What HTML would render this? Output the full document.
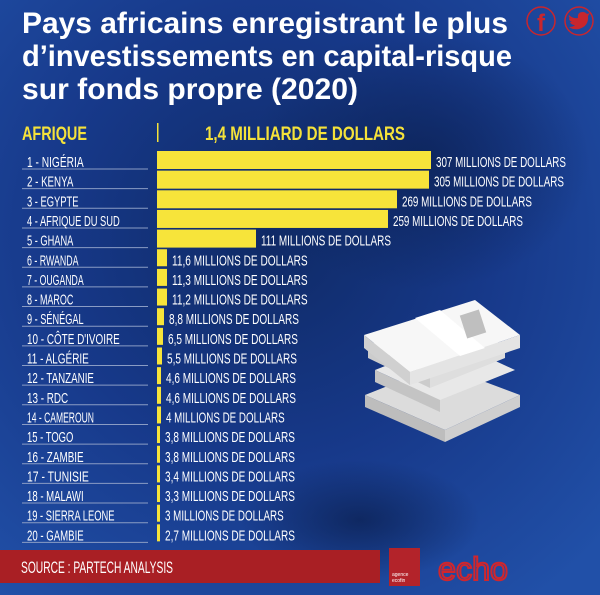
<!DOCTYPE html>
<html><head><meta charset="utf-8"><style>
html,body{margin:0;padding:0;width:600px;height:595px;overflow:hidden;background:#1e48a0}
svg{display:block}
text{font-family:"Liberation Sans",sans-serif}
</style></head><body>
<svg width="600" height="595" viewBox="0 0 600 595" xmlns="http://www.w3.org/2000/svg">
<defs>
<radialGradient id="bg" cx="0.45" cy="0.4" r="0.75">
<stop offset="0" stop-color="#0f2a66"/><stop offset="0.5" stop-color="#17398a"/><stop offset="1" stop-color="#2150a8"/>
</radialGradient>
<radialGradient id="blob" cx="0.5" cy="0.5" r="0.5">
<stop offset="0" stop-color="#0c2255" stop-opacity="0.8"/><stop offset="1" stop-color="#0c2255" stop-opacity="0"/>
</radialGradient>
</defs>
<rect width="600" height="595" fill="url(#bg)"/>
<ellipse cx="420" cy="160" rx="170" ry="130" fill="url(#blob)"/>
<ellipse cx="360" cy="520" rx="120" ry="60" fill="url(#blob)"/>
<g fill="#fff" font-weight="bold" font-size="30">
<text x="22" y="33" textLength="486" lengthAdjust="spacingAndGlyphs">Pays africains enregistrant le plus</text>
<text x="22" y="66" textLength="490" lengthAdjust="spacingAndGlyphs">d’investissements en capital-risque</text>
<text x="22" y="99" textLength="336" lengthAdjust="spacingAndGlyphs">sur fonds propre (2020)</text>
</g>
<circle cx="541" cy="21" r="14" fill="none" stroke="#c8262d" stroke-width="1.5"/>
<text x="541" y="31" font-size="24" font-weight="bold" fill="#c8262d" text-anchor="middle">f</text>
<circle cx="579" cy="21" r="14" fill="none" stroke="#c8262d" stroke-width="1.5"/>
<path d="M569 15 q4 4 9 3 q-1 -6 5 -6 q2 0 4 2 l3 -1 l-2 3 q1 10 -9 13 q-6 1 -10 -2 q4 0 6 -2 q-4 0 -5 -3 l2 0 q-3 -1 -3 -4 l2 1 q-3 -2 -2 -4z" fill="#c8262d"/>
<g fill="#f5e23a" font-weight="bold" font-size="19">
<text x="22" y="140" textLength="65" lengthAdjust="spacingAndGlyphs">AFRIQUE</text>
<text x="205" y="140" textLength="200" lengthAdjust="spacingAndGlyphs">1,4 MILLIARD DE DOLLARS</text>
</g>
<rect x="157" y="123" width="1.5" height="19" fill="#f5e23a"/>
<g id="rows" fill="#fff" font-size="15"></g>
<g>
<polygon points="365,395 440,365 520,395 445,430" fill="#dcdcdc"/>
<polygon points="365,395 445,430 445,442 365,407" fill="#bdbdbd"/>
<polygon points="445,430 520,395 520,407 445,442" fill="#cfcfcf"/>
<polygon points="375,370 450,340 515,370 440,400" fill="#e8e8e8"/>
<polygon points="375,370 440,400 440,412 375,382" fill="#c4c4c4"/>
<polygon points="368,345 440,318 505,345 430,375" fill="#f0f0f0"/>
<polygon points="368,345 430,375 430,388 368,358" fill="#cccccc"/>
<polygon points="430,375 505,345 505,358 430,388" fill="#dedede"/>
<polygon points="364,335 475,300 520,335 410,372" fill="#f7f7f7"/>
<polygon points="364,335 410,372 410,385 364,348" fill="#d0d0d0"/>
<polygon points="410,372 520,335 520,348 410,385" fill="#e4e4e4"/>
<polygon points="415,318 440,310 485,348 460,356" fill="#ffffff"/>
<rect x="463" y="312" width="20" height="24" fill="#bfbfbf" transform="rotate(-18 473 324)"/>
</g>
<rect x="0" y="550" width="380" height="33" fill="#a91f24"/>
<text x="21" y="573" font-size="17" fill="#fff" textLength="152" lengthAdjust="spacingAndGlyphs">SOURCE : PARTECH ANALYSIS</text>
<rect x="389" y="548" width="31" height="38" fill="#b3232a"/>
<text x="392" y="576" font-size="5" fill="#fff">agence</text>
<text x="392" y="582" font-size="5" fill="#fff">ecofin</text>
<text x="438" y="580" font-size="32" fill="none" stroke="#d0262d" stroke-width="2" textLength="70" lengthAdjust="spacingAndGlyphs">echo</text>
</svg>
<script>
var d=[["1 - NIGÉRIA",431,"307 MILLIONS DE DOLLARS"],["2 - KENYA",429,"305 MILLIONS DE DOLLARS"],["3 - EGYPTE",397,"269 MILLIONS DE DOLLARS"],["4 - AFRIQUE DU SUD",388,"259 MILLIONS DE DOLLARS"],["5 - GHANA",256,"111 MILLIONS DE DOLLARS"],["6 - RWANDA",167,"11,6 MILLIONS DE DOLLARS"],["7 - OUGANDA",167,"11,3 MILLIONS DE DOLLARS"],["8 - MAROC",167,"11,2 MILLIONS DE DOLLARS"],["9 - SÉNÉGAL",164,"8,8 MILLIONS DE DOLLARS"],["10 - CÔTE D'IVOIRE",163,"6,5 MILLIONS DE DOLLARS"],["11 - ALGÉRIE",162,"5,5 MILLIONS DE DOLLARS"],["12 - TANZANIE",161,"4,6 MILLIONS DE DOLLARS"],["13 - RDC",161,"4,6 MILLIONS DE DOLLARS"],["14 - CAMEROUN",161,"4 MILLIONS DE DOLLARS"],["15 - TOGO",160,"3,8 MILLIONS DE DOLLARS"],["16 - ZAMBIE",160,"3,8 MILLIONS DE DOLLARS"],["17 - TUNISIE",160,"3,4 MILLIONS DE DOLLARS"],["18 - MALAWI",160,"3,3 MILLIONS DE DOLLARS"],["19 - SIERRA LEONE",160,"3 MILLIONS DE DOLLARS"],["20 - GAMBIE",160,"2,7 MILLIONS DE DOLLARS"]];
var g=document.getElementById('rows'),h="";
d.forEach(function(r,i){var t=151+i*19.65;
h+='<rect x="157" y="'+t+'" width="'+(r[1]-157)+'" height="'+(i<5?18:17)+'" fill="#f7e43a"/>';
h+='<line x1="22" x2="148" y1="'+(t+18)+'" y2="'+(t+18)+'" stroke="#8a9cc4" stroke-width="1"/>';
h+='<text x="27" y="'+(t+16)+'" textLength="'+(r[0].length*5.15)+'" lengthAdjust="spacingAndGlyphs">'+r[0]+'</text>';
h+='<text x="'+(r[1]+5)+'" y="'+(t+16)+'" textLength="'+(r[2].length*5.65)+'" lengthAdjust="spacingAndGlyphs">'+r[2]+'</text>';});
g.innerHTML=h;
</script>
</body></html>
